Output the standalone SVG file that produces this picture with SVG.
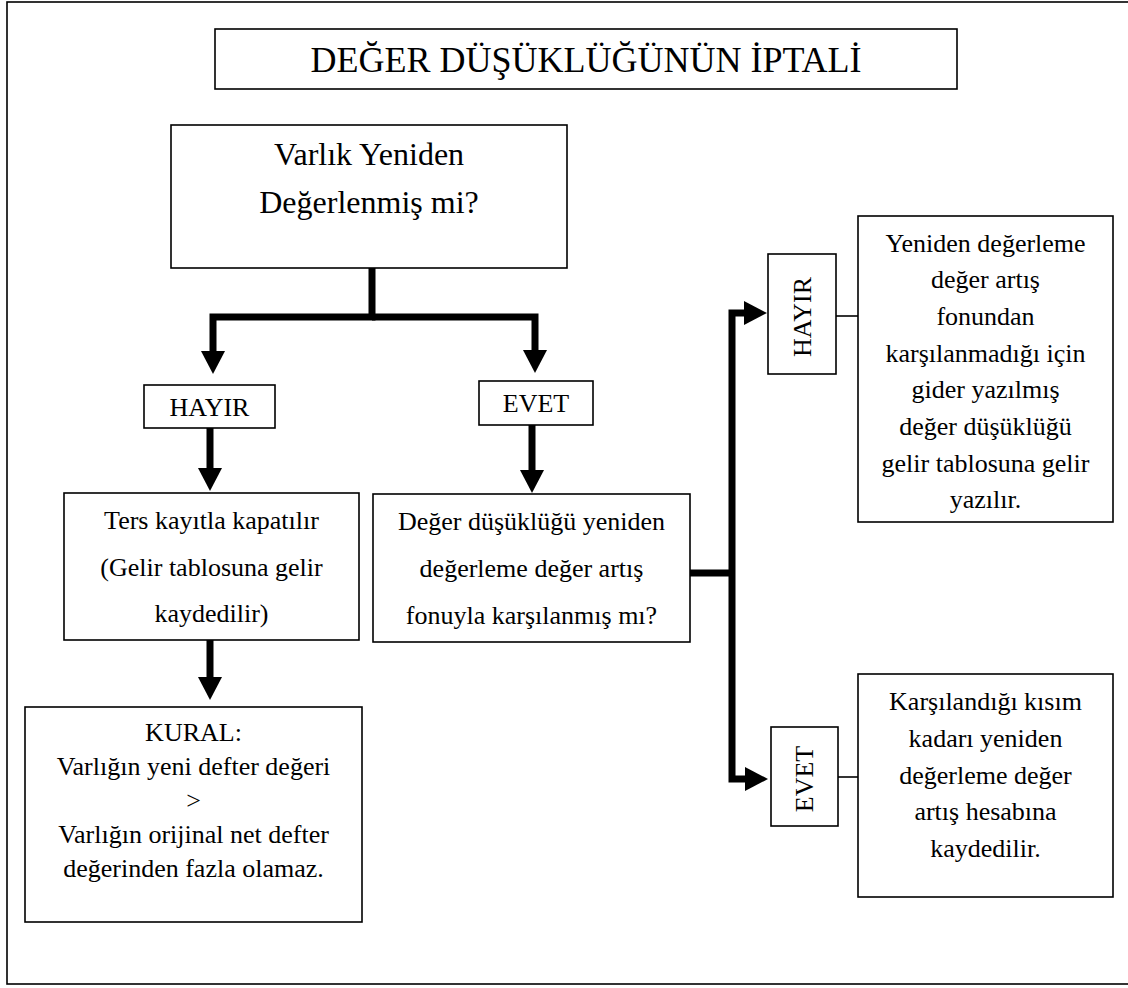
<svg xmlns="http://www.w3.org/2000/svg" width="1128" height="988" viewBox="0 0 1128 988">
<style>
.box{fill:#fff;stroke:#000;stroke-width:1.6}
.t{font-family:"Liberation Serif","Times New Roman",serif;font-size:26px;fill:#000;text-anchor:middle}
.big{font-size:32px}
.title{font-size:36px}
.thick{fill:none;stroke:#000;stroke-width:7;stroke-linejoin:miter;stroke-linecap:butt}
.thin{fill:none;stroke:#000;stroke-width:1.6}
</style>
<defs>
<marker id="ah" viewBox="0 0 23 24" refX="0" refY="12" markerWidth="23" markerHeight="24" markerUnits="userSpaceOnUse" orient="auto">
<path d="M0,0 L23,12 L0,24 Z" fill="#000"/>
</marker>
</defs>
<rect x="7" y="2" width="1130" height="982" fill="#fff" stroke="#000" stroke-width="1.6"/>
<g id="title">
<rect class="box" x="215" y="29" width="742" height="60"/>
<text class="t title" x="586" y="72">DEĞER DÜŞÜKLÜĞÜNÜN İPTALİ</text>
</g>
<g id="n-varlik">
<rect class="box" x="171" y="125" width="396" height="143"/>
<text class="t big" x="369" y="165">Varlık Yeniden</text>
<text class="t big" x="369" y="213">Değerlenmiş mi?</text>
</g>
<g id="n-hayir1">
<rect class="box" x="144" y="385" width="131" height="43"/>
<text class="t" x="209.5" y="416">HAYIR</text>
</g>
<g id="n-evet1">
<rect class="box" x="479" y="381" width="114" height="44"/>
<text class="t" x="536" y="412">EVET</text>
</g>
<g id="n-ters">
<rect class="box" x="64" y="493" width="295" height="147"/>
<text class="t" x="211.5" y="529">Ters kayıtla kapatılır</text>
<text class="t" x="211.5" y="576">(Gelir tablosuna gelir</text>
<text class="t" x="211.5" y="622">kaydedilir)</text>
</g>
<g id="n-kural">
<rect class="box" x="25" y="707" width="337" height="215"/>
<text class="t" x="193.5" y="741">KURAL:</text>
<text class="t" x="193.5" y="775">Varlığın yeni defter değeri</text>
<text class="t" x="193.5" y="809">&gt;</text>
<text class="t" x="193.5" y="843">Varlığın orijinal net defter</text>
<text class="t" x="193.5" y="877">değerinden fazla olamaz.</text>
</g>
<g id="n-deger">
<rect class="box" x="373" y="494" width="317" height="148"/>
<text class="t" x="531.5" y="530">Değer düşüklüğü yeniden</text>
<text class="t" x="531.5" y="577">değerleme değer artış</text>
<text class="t" x="531.5" y="624">fonuyla karşılanmış mı?</text>
</g>
<g id="n-hayir2">
<rect class="box" x="768" y="254" width="68" height="120"/>
<text class="t" transform="translate(811,317) rotate(-90)">HAYIR</text>
</g>
<g id="n-evet2">
<rect class="box" x="771" y="727" width="67" height="99"/>
<text class="t" transform="translate(813,779) rotate(-90)">EVET</text>
</g>
<g id="n-right1">
<rect class="box" x="858" y="216" width="255" height="306"/>
<text class="t" x="985.5" y="252">Yeniden değerleme</text>
<text class="t" x="985.5" y="288">değer artış</text>
<text class="t" x="985.5" y="325">fonundan</text>
<text class="t" x="985.5" y="362">karşılanmadığı için</text>
<text class="t" x="985.5" y="398">gider yazılmış</text>
<text class="t" x="985.5" y="435">değer düşüklüğü</text>
<text class="t" x="985.5" y="472">gelir tablosuna gelir</text>
<text class="t" x="985.5" y="508">yazılır.</text>
</g>
<g id="n-right2">
<rect class="box" x="858" y="674" width="255" height="223"/>
<text class="t" x="985.5" y="710">Karşılandığı kısım</text>
<text class="t" x="985.5" y="747">kadarı yeniden</text>
<text class="t" x="985.5" y="784">değerleme değer</text>
<text class="t" x="985.5" y="820">artış hesabına</text>
<text class="t" x="985.5" y="857">kaydedilir.</text>
</g>
<g id="connectors">
<path class="thick" d="M372,268 V317 H213 V351" marker-end="url(#ah)"/>
<path class="thick" d="M372,317 H535 V350" marker-end="url(#ah)"/>
<path class="thick" d="M210,428 V468" marker-end="url(#ah)"/>
<path class="thick" d="M532,425 V470" marker-end="url(#ah)"/>
<path class="thick" d="M210,640 V677" marker-end="url(#ah)"/>
<path class="thick" d="M690,573 H732"/>
<path class="thick" d="M732,573 V313 H744" marker-end="url(#ah)"/>
<path class="thick" d="M732,573 V779 H745" marker-end="url(#ah)"/>
<path class="thin" d="M836,316 H858"/>
<path class="thin" d="M838,777 H858"/>
</g>
</svg>
